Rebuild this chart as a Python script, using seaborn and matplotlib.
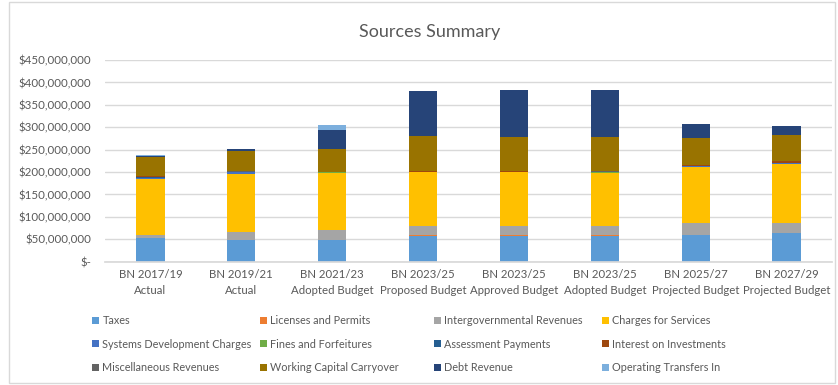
import matplotlib
matplotlib.use("Agg")
import matplotlib.pyplot as plt
from matplotlib.patches import Patch, Rectangle
from matplotlib.ticker import FuncFormatter
import numpy as np
import pandas as pd
import seaborn as sns

# Biennium labels
categories = [
    "BN 2017/19\nActual",
    "BN 2019/21\nActual",
    "BN 2021/23\nAdopted Budget",
    "BN 2023/25\nProposed Budget",
    "BN 2023/25\nApproved Budget",
    "BN 2023/25\nAdopted Budget",
    "BN 2025/27\nProjected Budget",
    "BN 2027/29\nProjected Budget",
]

# Revenue sources, in millions of dollars (stacked bottom to top)
taxes = [52.0, 48.0, 48.0, 58.0, 58.0, 58.0, 59.5, 63.5]
licenses_permits = [0.5, 1.5, 1.5, 1.5, 1.5, 1.5, 1.0, 1.5]
intergovernmental = [7.0, 17.0, 21.5, 20.0, 21.0, 20.0, 26.0, 21.0]
charges_for_services = [124.0, 130.0, 127.0, 120.5, 119.0, 119.0, 125.5, 133.0]
systems_dev_charges = [4.0, 3.5, 1.0, 0.5, 0.5, 0.5, 0.5, 0.5]
fines_forfeitures = [0.2, 0.2, 0.2, 0.2, 0.2, 0.2, 0.2, 0.2]
assessment_payments = [0.3, 0.3, 0.3, 0.3, 0.3, 0.3, 0.3, 0.3]
interest_investments = [3.0, 0.5, 0.5, 1.5, 1.5, 1.5, 3.0, 4.5]
misc_revenues = [0.5, 0.5, 0.5, 0.5, 0.5, 0.5, 0.5, 0.5]
working_capital = [42.0, 46.0, 52.0, 76.5, 76.5, 76.5, 58.5, 57.0]
debt_revenue = [1.5, 3.0, 42.0, 102.0, 104.0, 104.0, 32.5, 20.0]
operating_transfers = [3.5, 0.0, 11.0, 0.0, 0.0, 0.0, 0.0, 0.0]

series_names = [
    "Taxes", "Licenses and Permits", "Intergovernmental Revenues", "Charges for Services",
    "Systems Development Charges", "Fines and Forfeitures", "Assessment Payments",
    "Interest on Investments", "Miscellaneous Revenues", "Working Capital Carryover",
    "Debt Revenue", "Operating Transfers In",
]
series_values = [
    taxes, licenses_permits, intergovernmental, charges_for_services,
    systems_dev_charges, fines_forfeitures, assessment_payments,
    interest_investments, misc_revenues, working_capital,
    debt_revenue, operating_transfers,
]
series_colors = [
    "#5B9BD5", "#ED7D31", "#A5A5A5", "#FFC000",
    "#4472C4", "#70AD47", "#255E91", "#9E480E",
    "#636363", "#997300", "#264478", "#7CAFDD",
]

values = np.array(series_values) * 1e6
cumulative = np.cumsum(values, axis=0)

text_color = "#595959"
grid_color = "#D9D9D9"

sns.set_theme(style="white")
plt.rcParams["font.family"] = ["Lato", "DejaVu Sans"]

fig = plt.figure(figsize=(8.38, 3.85), dpi=100)
ax = fig.add_axes([105 / 838, 1 - 261.7 / 385, (832 - 105) / 838, (261.7 - 60) / 385])

# Stacked bars: draw cumulative totals from the top layer downward
for i in range(len(series_names) - 1, -1, -1):
    df = pd.DataFrame({"period": categories, "total": cumulative[i]})
    sns.barplot(data=df, x="period", y="total", color=series_colors[i],
                saturation=1, width=0.31, ax=ax, order=categories,
                linewidth=0, edgecolor="none")

ax.set_ylim(0, 450e6)
ax.set_yticks(np.arange(0, 450e6 + 1, 50e6))
ax.yaxis.set_major_formatter(FuncFormatter(lambda v, p: "$-" if v == 0 else f"${v:,.0f}"))
ax.set_axisbelow(True)
ax.yaxis.grid(True, color=grid_color, linewidth=1)
ax.xaxis.grid(False)
for s in ["top", "right", "left"]:
    ax.spines[s].set_visible(False)
ax.spines["bottom"].set_color(grid_color)
ax.set_xlabel("")
ax.set_ylabel("")
ax.tick_params(axis="both", length=0, labelcolor=text_color)
ax.tick_params(axis="y", pad=10, labelsize=8.3)
ax.tick_params(axis="x", pad=5, labelsize=8.2)
for lbl in ax.get_xticklabels():
    lbl.set_linespacing(1.55)

fig.text(0.513, 1 - 32 / 385, "Sources Summary", ha="center", va="center",
         fontsize=13, color=text_color)

# Legend: four columns of three entries, evenly spaced
col_x = [92, 260, 434, 602]
for c, x0 in enumerate(col_x):
    idx = [c, c + 4, c + 8]
    leg = fig.legend([Patch(facecolor=series_colors[k], edgecolor="none") for k in idx],
                     [series_names[k] for k in idx],
                     ncol=1, loc="upper left", bbox_to_anchor=(x0 / 838, 1 - 315 / 385),
                     frameon=False, fontsize=7.8, handlelength=0.6, handleheight=0.6,
                     handletextpad=0.35, labelspacing=1.17,
                     borderaxespad=0, borderpad=0)
    for t in leg.get_texts():
        t.set_color(text_color)

fig.patches.append(Rectangle((9 / 838, 2 / 385), 826 / 838, 381 / 385,
                             transform=fig.transFigure, fill=False,
                             edgecolor=grid_color, linewidth=1))

fig.savefig("out.png", dpi=100)
